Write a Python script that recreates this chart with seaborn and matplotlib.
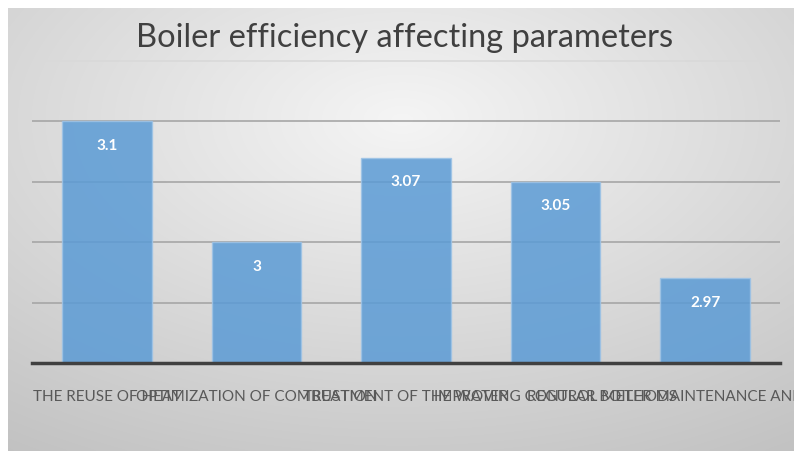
import numpy as np
import pandas as pd
import matplotlib
matplotlib.use("Agg")
import matplotlib.pyplot as plt
import seaborn as sns

categories = ["THE REUSE OF HEAT", "OPTIMIZATION OF COMBUSTION", "TREATMENT OF THE WATER",
              "IMPROVING CONTROL METHODS", "REGULAR BOILER MAINTENANCE AND CLEANING"]
values = [3.1, 3.0, 3.07, 3.05, 2.97]
value_labels = ["3.1", "3", "3.07", "3.05", "2.97"]
title = "Boiler efficiency affecting parameters"

sns.set_theme(style="white")
plt.rcParams["font.family"] = ["Lato", "DejaVu Sans"]

W, H = 794, 452
fig = plt.figure(figsize=(W / 100, H / 100), dpi=100)
fig.patch.set_facecolor("white")

# background gradient panel
bg = fig.add_axes([8 / W, 0, 1 - 8 / W, 1 - 9 / H], zorder=0)
yy, xx = np.mgrid[0:200, 0:300]
cx, cy = 150, 50
d = np.sqrt(((xx - cx) / 300) ** 2 + ((yy - cy) / 200) ** 2)
d = d / d.max()
g = 0.96 - 0.20 * d
bg.imshow(np.dstack([g, g, g]), aspect="auto", interpolation="bilinear", extent=[0, 1, 0, 1])
bg.set_axis_off()

ax = fig.add_axes([32 / W, 1 - 364 / H, (780 - 32) / W, (364 - 62) / H], zorder=1)
ax.patch.set_alpha(0)

df = pd.DataFrame({"cat": categories, "val": values})
sns.barplot(data=df, x="cat", y="val", ax=ax, color="#5b9bd5", width=0.6,
            saturation=1, alpha=0.85, edgecolor="#9dc3e6", linewidth=1, zorder=2)
ax.set_ylim(2.9, 3.15)
ax.set_yticks([2.95, 3.0, 3.05, 3.1])
ax.set_yticklabels([])
ax.yaxis.grid(True, color="#a6a6a6", linewidth=1.2, zorder=1)
ax.axhline(3.15, color="#d9d9d9", linewidth=1.2, zorder=1, clip_on=False)
ax.set_axisbelow(True)
ax.tick_params(axis="both", length=0)
for s in ["top", "right", "left"]:
    ax.spines[s].set_visible(False)
ax.spines["bottom"].set_color("#404040")
ax.spines["bottom"].set_linewidth(2.5)
ax.spines["bottom"].set_zorder(5)
ax.set_xlabel("")
ax.set_ylabel("")
ax.set_xticks(range(len(categories)))
ax.set_xticklabels(categories, fontsize=11, color="#595959")
ax.tick_params(axis="x", pad=19)

ax.bar_label(ax.containers[0], labels=value_labels, padding=-22, color="white",
             fontsize=11, fontweight="bold")

fig.text(405 / W, 1 - 38 / H, title, ha="center", va="center", fontsize=23.5,
         fontweight="normal", color="#404040", zorder=3)

fig.savefig("out.png", dpi=100)
